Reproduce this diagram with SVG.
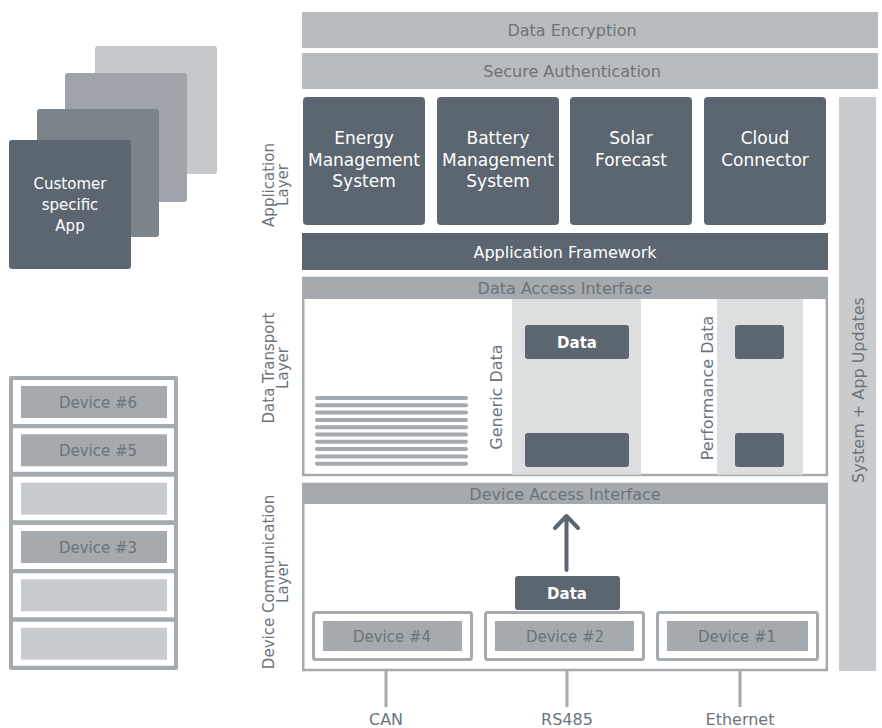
<svg xmlns="http://www.w3.org/2000/svg" width="882" height="728" viewBox="0 0 882 728">
<style>
text{font-family:"DejaVu Sans","Open Sans","Liberation Sans",sans-serif;font-size:16px;text-anchor:middle}
.dark{fill:#5b6670}
.mid{fill:#a4aaae}
.top{fill:#b8bcbf}
.light{fill:#c8cccf}
.col{fill:#dcdfe0}
.wt{fill:#ffffff}
.gt{fill:#6b747c}
.lbl{font-size:15px}
.app{font-size:17px}
.bold{font-size:15px;font-weight:bold}
.frame{fill:#ffffff;stroke:#a4aaae;stroke-width:2.5}
.dev{fill:#ffffff;stroke:#a4aaae;stroke-width:3}
.stripe{stroke:#a4aaae;stroke-width:4;stroke-linecap:round}
.wire{stroke:#a4aaae;stroke-width:3}
</style>
<rect width="882" height="728" fill="#ffffff"/>

<g id="apps-stack">
<rect x="95" y="46" width="122" height="128" rx="3" fill="#c4c8cb"/>
<rect x="65" y="73" width="122" height="129" rx="3" fill="#9ea4a9"/>
<rect x="37" y="109" width="122" height="128" rx="3" fill="#7b838b"/>
<rect x="9" y="140" width="122" height="129" rx="3" class="dark"/>
<text x="70" y="189" class="wt lbl">Customer</text>
<text x="70" y="210" class="wt lbl">specific</text>
<text x="70" y="231" class="wt lbl">App</text>
</g>

<g id="device-stack">
<rect x="9" y="376" width="169" height="294" rx="2" class="mid"/>
<rect x="13" y="380" width="161" height="44" class="wt"/>
<rect x="13" y="428.3" width="161" height="43.5" class="wt"/>
<rect x="13" y="476.7" width="161" height="43.5" class="wt"/>
<rect x="13" y="525" width="161" height="44" class="wt"/>
<rect x="13" y="573.3" width="161" height="44" class="wt"/>
<rect x="13" y="621.7" width="161" height="44" class="wt"/>
<rect x="21" y="386" width="146" height="32" class="mid"/>
<rect x="21" y="434.3" width="146" height="32" class="mid"/>
<rect x="21" y="482.7" width="146" height="32" class="light"/>
<rect x="21" y="531" width="146" height="32" class="mid"/>
<rect x="21" y="579.3" width="146" height="32" class="light"/>
<rect x="21" y="627.7" width="146" height="32" class="light"/>
<text x="98" y="407.5" class="gt lbl">Device #6</text>
<text x="98" y="455.8" class="gt lbl">Device #5</text>
<text x="98" y="552.5" class="gt lbl">Device #3</text>
</g>

<g id="data-encryption">
<rect x="302" y="12" width="576" height="36" class="top"/>
<text x="572" y="36" class="gt">Data Encryption</text>
</g>
<g id="secure-authentication">
<rect x="302" y="53" width="576" height="36" class="top"/>
<text x="572" y="77" class="gt">Secure Authentication</text>
</g>

<g id="updates">
<rect x="839" y="97" width="37" height="574" class="light"/>
<text transform="translate(864,390) rotate(-90)" class="gt">System + App Updates</text>
</g>

<g id="app-layer-label">
<text transform="translate(274,185) rotate(-90)" class="gt lbl">Application</text>
<text transform="translate(288,185) rotate(-90)" class="gt lbl">Layer</text>
</g>
<g id="ems">
<rect x="303" y="97" width="122" height="128" rx="4" class="dark"/>
<text x="364" y="144" class="wt app">Energy</text>
<text x="364" y="165.5" class="wt app">Management</text>
<text x="364" y="187" class="wt app">System</text>
</g>
<g id="bms">
<rect x="437" y="97" width="122" height="128" rx="4" class="dark"/>
<text x="498" y="144" class="wt app">Battery</text>
<text x="498" y="165.5" class="wt app">Management</text>
<text x="498" y="187" class="wt app">System</text>
</g>
<g id="solar">
<rect x="570" y="97" width="122" height="128" rx="4" class="dark"/>
<text x="631" y="144" class="wt app">Solar</text>
<text x="631" y="165.5" class="wt app">Forecast</text>
</g>
<g id="cloud">
<rect x="704" y="97" width="122" height="128" rx="4" class="dark"/>
<text x="765" y="144" class="wt app">Cloud</text>
<text x="765" y="165.5" class="wt app">Connector</text>
</g>
<g id="framework">
<rect x="302" y="233" width="526" height="37" class="dark"/>
<text x="565" y="257.5" class="wt">Application Framework</text>
</g>

<g id="transport-layer-label">
<text transform="translate(274,368) rotate(-90)" class="gt lbl">Data Transport</text>
<text transform="translate(288,368) rotate(-90)" class="gt lbl">Layer</text>
</g>
<g id="data-transport">
<rect x="303.2" y="278" width="523.6" height="197" class="frame"/>
<rect x="302" y="277" width="526" height="22" class="mid"/>
<text x="565" y="294" class="gt">Data Access Interface</text>
<rect x="512" y="299" width="129" height="175.8" class="col"/>
<rect x="717" y="299" width="86" height="175.8" class="col"/>
<rect x="525" y="325" width="104" height="34" rx="3" class="dark"/>
<text x="577" y="347.5" class="wt bold">Data</text>
<rect x="525" y="433" width="104" height="34" rx="3" class="dark"/>
<rect x="735" y="325" width="49" height="34" rx="3" class="dark"/>
<rect x="735" y="433" width="49" height="34" rx="3" class="dark"/>
<text transform="translate(502,397) rotate(-90)" class="gt">Generic Data</text>
<text transform="translate(713,388) rotate(-90)" class="gt">Performance Data</text>
<g id="stripes">
<line x1="317" y1="398" x2="466" y2="398" class="stripe"/>
<line x1="317" y1="405.3" x2="466" y2="405.3" class="stripe"/>
<line x1="317" y1="412.6" x2="466" y2="412.6" class="stripe"/>
<line x1="317" y1="419.9" x2="466" y2="419.9" class="stripe"/>
<line x1="317" y1="427.2" x2="466" y2="427.2" class="stripe"/>
<line x1="317" y1="434.5" x2="466" y2="434.5" class="stripe"/>
<line x1="317" y1="441.8" x2="466" y2="441.8" class="stripe"/>
<line x1="317" y1="449.1" x2="466" y2="449.1" class="stripe"/>
<line x1="317" y1="456.4" x2="466" y2="456.4" class="stripe"/>
<line x1="317" y1="463.7" x2="466" y2="463.7" class="stripe"/>
</g>
</g>

<g id="device-layer-label">
<text transform="translate(274,582) rotate(-90)" class="gt lbl">Device Communication</text>
<text transform="translate(288,582) rotate(-90)" class="gt lbl">Layer</text>
</g>
<g id="device-communication">
<rect x="303.2" y="484" width="523.6" height="186" class="frame"/>
<rect x="302" y="483" width="526" height="21" class="mid"/>
<text x="565" y="499.5" class="gt">Device Access Interface</text>
</g>
<g id="data-packet">
<rect x="515" y="576" width="105" height="34" rx="3" class="dark"/>
<text x="567" y="598.5" class="wt bold">Data</text>
</g>
<g id="device4">
<rect x="313.5" y="612.5" width="158" height="47" rx="2" class="dev"/>
<rect x="323" y="621" width="139" height="30" class="mid"/>
<text x="392" y="641.5" class="gt lbl">Device #4</text>
</g>
<g id="device2">
<rect x="485.5" y="612.5" width="158" height="47" rx="2" class="dev"/>
<rect x="495" y="621" width="139" height="30" class="mid"/>
<text x="565" y="641.5" class="gt lbl">Device #2</text>
</g>
<g id="device1">
<rect x="657.5" y="612.5" width="160" height="47" rx="2" class="dev"/>
<rect x="667" y="621" width="141" height="30" class="mid"/>
<text x="737" y="641.5" class="gt lbl">Device #1</text>
</g>

<g id="connectors">
<path d="M566.5 570 V517 M555 528 L566.5 516 L578 528" fill="none" stroke="#5b6670" stroke-width="4" stroke-linecap="round" stroke-linejoin="round"/>
<line x1="386" y1="671" x2="386" y2="707" class="wire"/>
<line x1="567" y1="671" x2="567" y2="707" class="wire"/>
<line x1="740" y1="671" x2="740" y2="707" class="wire"/>
</g>
<text x="386" y="725" class="gt">CAN</text>
<text x="567" y="725" class="gt">RS485</text>
<text x="740" y="725" class="gt">Ethernet</text>
</svg>
